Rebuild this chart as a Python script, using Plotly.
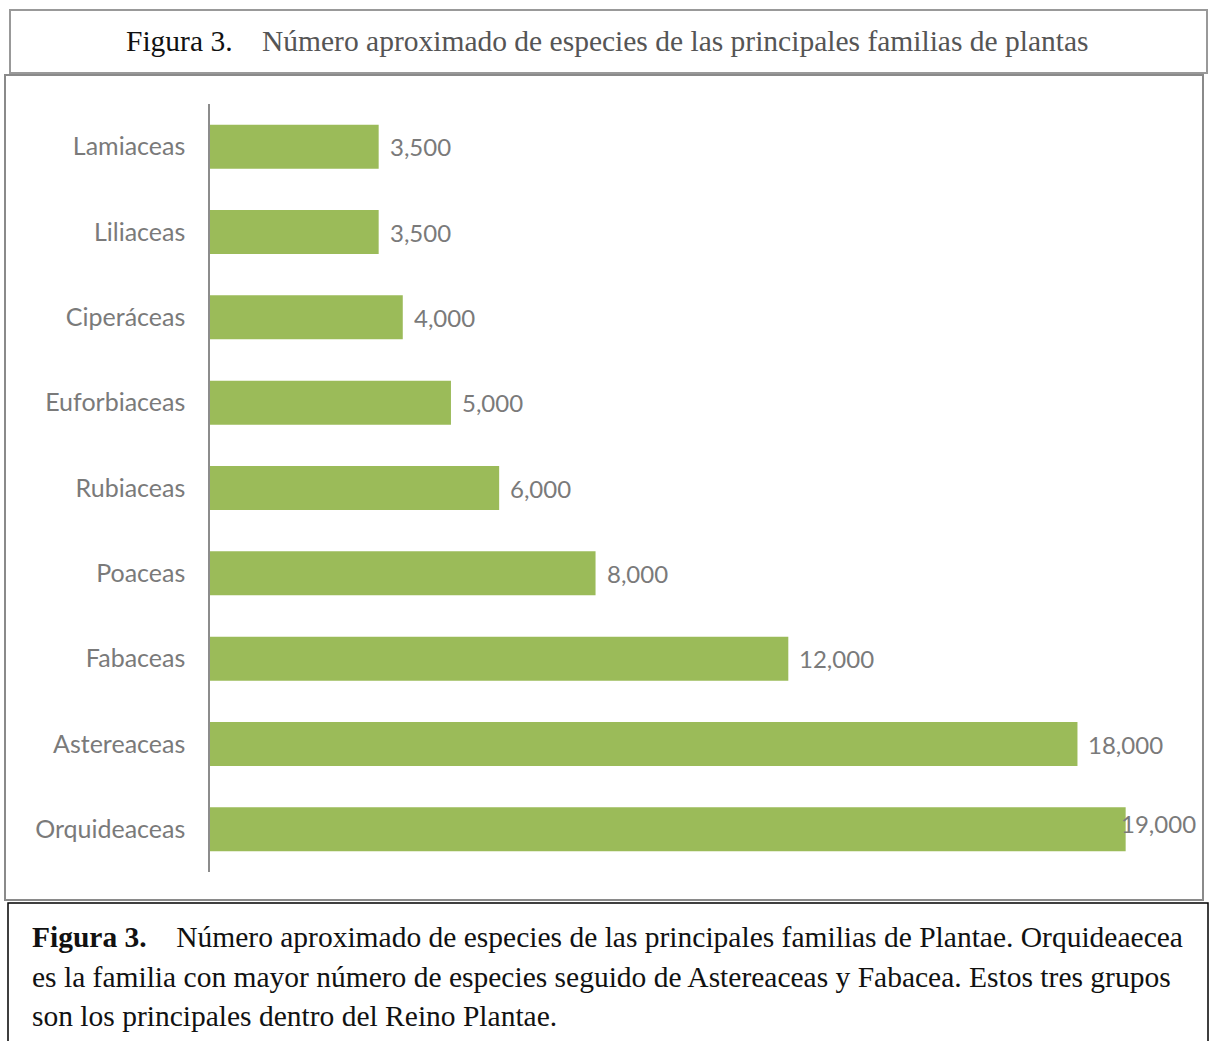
import plotly.graph_objects as go

families = ["Lamiaceas", "Liliaceas", "Ciperáceas", "Euforbiaceas", "Rubiaceas",
            "Poaceas", "Fabaceas", "Astereaceas", "Orquideaceas"]
species = [3500, 3500, 4000, 5000, 6000, 8000, 12000, 18000, 19000]
value_labels = [f"{v:,}" for v in species]

title_text = ("<span style='color:#111111'>Figura 3.</span>    "
              "Número aproximado de especies de las principales familias de plantas")
caption_lines = [
    "<b>Figura 3.</b>    Número aproximado de especies de las principales familias de Plantae. Orquideaecea",
    "es la familia con mayor número de especies seguido de Astereaceas y Fabacea. Estos tres grupos",
    "son los principales dentro del Reino Plantae.",
]

W, H = 1213, 1041
L, R, T, B = 210, 43, 104, 169
PW, PH = W - L - R, H - T - B
XMAX = 19920

def px(x):
    return (x - L) / PW

def py(y):
    return (H - B - y) / PH

BAR = "#9BBB59"
GRAY = "#7a7a7a"
LABEL_FONT = "Lato"

fig = go.Figure(go.Bar(
    x=species, y=families, orientation="h",
    marker=dict(color=BAR, line=dict(width=0)),
    width=0.515,
    hoverinfo="x+y",
))

for fam, v, lab in zip(families, species, value_labels):
    near_edge = v > 0.93 * XMAX
    fig.add_annotation(x=v, y=fam, text=lab, xanchor="left", yanchor="middle",
                       xshift=-7 if near_edge else 9, yshift=6 if near_edge else 0,
                       showarrow=False,
                       font=dict(family=LABEL_FONT, size=24, color=GRAY))

shapes = [
    dict(type="rect", xref="paper", yref="paper", x0=px(10), x1=px(1207), y0=py(73), y1=py(10),
         line=dict(color="#999999", width=2), fillcolor="rgba(0,0,0,0)", layer="below"),
    dict(type="rect", xref="paper", yref="paper", x0=px(5), x1=px(1203), y0=py(900), y1=py(75),
         line=dict(color="#8a8a8a", width=2), fillcolor="rgba(0,0,0,0)", layer="below"),
    dict(type="rect", xref="paper", yref="paper", x0=px(8), x1=px(1208), y0=py(1046), y1=py(903),
         line=dict(color="#000000", width=1.5), fillcolor="rgba(0,0,0,0)", layer="below"),
]

annots = [
    dict(xref="paper", yref="paper", x=px(607), y=py(41), text=title_text, showarrow=False,
         xanchor="center", yanchor="middle",
         font=dict(family="Liberation Serif", size=29.5, color="#555555")),
]
for i, line in enumerate(caption_lines):
    annots.append(dict(xref="paper", yref="paper", x=px(30), y=py(937 + 39.5 * i), text=line,
                       showarrow=False, xanchor="left", yanchor="middle",
                       font=dict(family="Liberation Serif", size=29.5, color="#111111")))
for a in annots:
    fig.add_annotation(**a)

fig.update_layout(
    width=W, height=H,
    margin=dict(l=L, r=R, t=T, b=B, autoexpand=False),
    paper_bgcolor="white", plot_bgcolor="white",
    showlegend=False,
    shapes=shapes,
    xaxis=dict(range=[0, XMAX], visible=False, showgrid=False, zeroline=False, fixedrange=True),
    yaxis=dict(autorange="reversed", showgrid=False, zeroline=False,
               showline=True, linecolor="#8c8c8c", linewidth=1.5,
               ticks="", ticklabelstandoff=18,
               tickfont=dict(family=LABEL_FONT, size=25, color=GRAY)),
)

fig.write_html("out.html", config={"displayModeBar": False},
               post_script="document.body.style.margin='0';")
